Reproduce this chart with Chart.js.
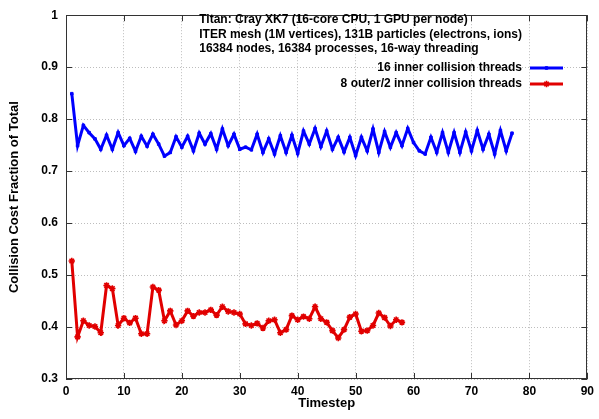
<!DOCTYPE html>
<html><head><meta charset="utf-8">
<script src="https://cdn.jsdelivr.net/npm/chart.js@4/dist/chart.umd.min.js"></script>
<style>html,body{margin:0;padding:0;background:#fff}#wrap{width:599px;height:419px;position:relative}</style>
</head><body><div id="wrap"><canvas id="c" width="599" height="419"></canvas></div>
<script>
const timesteps = [1,2,3,4,5,6,7,8,9,10,11,12,13,14,15,16,17,18,19,20,21,22,23,24,25,26,27,28,29,30,31,32,33,34,35,36,37,38,39,40,41,42,43,44,45,46,47,48,49,50,51,52,53,54,55,56,57,58,59,60,61,62,63,64,65,66,67,68,69,70,71,72,73,74,75,76,77];
const inner16 = [0.849,0.749,0.788,0.774,0.762,0.742,0.769,0.742,0.774,0.749,
  0.763,0.738,0.767,0.748,0.771,0.752,0.729,0.736,0.766,0.746,
  0.767,0.739,0.773,0.752,0.772,0.742,0.781,0.749,0.771,0.742,
  0.746,0.741,0.771,0.736,0.762,0.733,0.768,0.736,0.769,0.734,
  0.777,0.752,0.782,0.747,0.777,0.742,0.765,0.737,0.765,0.730,
  0.765,0.739,0.781,0.736,0.776,0.746,0.774,0.749,0.782,0.755,
  0.739,0.733,0.765,0.736,0.774,0.736,0.774,0.736,0.775,0.739,
  0.778,0.742,0.771,0.733,0.778,0.739,0.773];
const outer8inner2 = [0.527,0.381,0.412,0.403,0.401,0.389,0.480,0.474,0.403,0.417,
  0.408,0.417,0.387,0.387,0.477,0.471,0.412,0.431,0.404,0.412,
  0.431,0.421,0.428,0.428,0.433,0.423,0.439,0.430,0.428,0.425,
  0.406,0.403,0.407,0.398,0.412,0.414,0.389,0.395,0.422,0.414,
  0.420,0.416,0.439,0.416,0.409,0.393,0.379,0.395,0.419,0.425,
  0.392,0.393,0.403,0.427,0.418,0.402,0.414,0.409];
const seriesLabels = ['16 inner collision threads','8 outer/2 inner collision threads'];
const headerLines = ['Titan: Cray XK7 (16-core CPU, 1 GPU per node)','ITER mesh (1M vertices), 131B particles (electrons, ions)','16384 nodes, 16384 processes, 16-way threading'];
const xTicks = [0,10,20,30,40,50,60,70,80,90];
const yTicks = [0.3,0.4,0.5,0.6,0.7,0.8,0.9,1];

const FONT = '"Liberation Sans", Arial, Helvetica, sans-serif';
const BLUE = '#0000ff', RED = '#e10000';

const frame = {
  id:'frame',
  afterDraw(chart){
    const {ctx, chartArea:a, scales:{x,y}} = chart;
    ctx.save();
    ctx.strokeStyle = '#333'; ctx.lineWidth = 1;
    ctx.strokeRect(Math.round(a.left)+0.5, Math.round(a.top)+0.5, Math.round(a.right-a.left)-1, Math.round(a.bottom-a.top)-1);
    ctx.beginPath();
    xTicks.forEach(v=>{const px=Math.round(x.getPixelForValue(v))+0.5;
      ctx.moveTo(px,a.bottom); ctx.lineTo(px,a.bottom-6);
      ctx.moveTo(px,a.top); ctx.lineTo(px,a.top+6);});
    yTicks.forEach(v=>{const py=Math.round(y.getPixelForValue(v))+0.5;
      ctx.moveTo(a.left,py); ctx.lineTo(a.left+6,py);
      ctx.moveTo(a.right,py); ctx.lineTo(a.right-6,py);});
    ctx.stroke();
    // key
    ctx.font = 'bold 12px ' + FONT;
    ctx.fillStyle = '#000'; ctx.textBaseline = 'middle';
    const keyRight = 522;
    const w = Math.max(...headerLines.map(s=>ctx.measureText(s).width));
    ctx.textAlign = 'left';
    const hy = [20, 34.5, 49];
    headerLines.forEach((s,i)=>ctx.fillText(s, keyRight - w, hy[i]));
    ctx.textAlign = 'right';
    const ey = [68, 84];
    const cols = [BLUE, RED];
    seriesLabels.forEach((s,i)=>{
      ctx.fillText(s, keyRight, ey[i]);
      ctx.strokeStyle = cols[i]; ctx.lineWidth = 3;
      ctx.beginPath(); ctx.moveTo(530, ey[i]); ctx.lineTo(563, ey[i]); ctx.stroke();
      const ds = chart.data.datasets[i];
      ctx.fillStyle = cols[i]; ctx.lineWidth = ds.pointBorderWidth;
      Chart.helpers.drawPoint(ctx, {pointStyle:ds.pointStyle, radius:ds.pointRadius, borderWidth:ds.pointBorderWidth, rotation:0}, 546.5, ey[i]);
      ctx.fillStyle = '#000';
    });
    ctx.restore();
  }
};

new Chart(document.getElementById('c').getContext('2d'), {
  type:'line',
  data:{datasets:[
    {label:seriesLabels[0], data:inner16.map((v,i)=>({x:timesteps[i],y:v})), borderColor:BLUE, backgroundColor:BLUE,
     borderWidth:3, pointStyle:'rect', pointRadius:1.8, pointBorderWidth:1, tension:0},
    {label:seriesLabels[1], data:outer8inner2.map((v,i)=>({x:timesteps[i],y:v})), borderColor:RED, backgroundColor:RED,
     borderWidth:3, pointStyle:'star', pointRadius:3.2, pointBorderWidth:1.6, tension:0}
  ]},
  options:{
    responsive:false, animation:false, devicePixelRatio:1,
    layout:{padding:{left:0,right:8,top:11.5,bottom:0}},
    plugins:{legend:{display:false}, tooltip:{enabled:false}},
    scales:{
      x:{type:'linear', min:0, max:90,
        afterFit(s){s.height=40;},
        afterBuildTicks(s){s.ticks = xTicks.map(v=>({value:v}));},
        ticks:{font:{family:FONT,size:12,weight:'bold'}, color:'#000', padding:5, maxRotation:0, autoSkip:false},
        grid:{drawTicks:false, color:'#bdbdbd', lineWidth:1},
        border:{display:false, dash:[1,2]},
        title:{display:true, text:'Timestep', font:{family:FONT,size:13,weight:'bold'}, color:'#000', padding:{top:0,bottom:8}}},
      y:{type:'linear', min:0.3, max:1,
        afterFit(s){s.width=66;},
        afterBuildTicks(s){s.ticks = yTicks.map(v=>({value:v}));},
        ticks:{font:{family:FONT,size:12,weight:'bold'}, color:'#000', padding:8, autoSkip:false,
          callback:v=>String(Math.round(v*10)/10)},
        grid:{drawTicks:false, color:'#bdbdbd', lineWidth:1},
        border:{display:false, dash:[1,2]},
        title:{display:true, text:'Collision Cost Fraction of Total', font:{family:FONT,size:13,weight:'bold'}, color:'#000', padding:{top:7,bottom:0}}}
    }
  },
  plugins:[frame]
});
</script></body></html>
